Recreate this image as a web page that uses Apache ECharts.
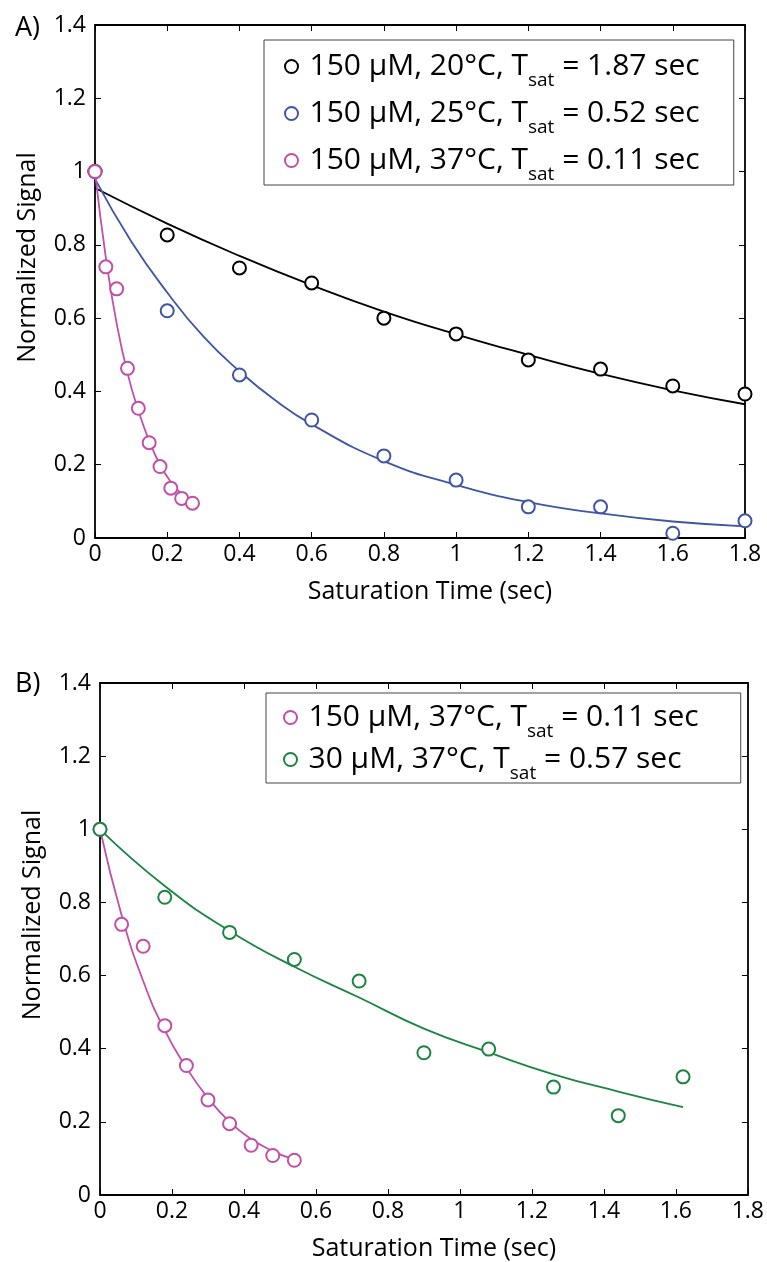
<!DOCTYPE html>
<html>
<head>
<meta charset="utf-8">
<script src="https://cdn.jsdelivr.net/npm/echarts@6/dist/echarts.min.js"></script>
<style>
html,body{margin:0;padding:0;background:#fff;}
#chart{width:767px;height:1262px;}
</style>
</head>
<body>
<div id="chart"></div>
<script>
// ---------- Data ----------
const xTicks = [0, 0.2, 0.4, 0.6, 0.8, 1, 1.2, 1.4, 1.6, 1.8];
const yTicks = [0, 0.2, 0.4, 0.6, 0.8, 1, 1.2, 1.4];

// Panel A
const xA = [0, 0.2, 0.4, 0.6, 0.8, 1.0, 1.2, 1.4, 1.6, 1.8];
const black20C = [1.0, 0.827, 0.737, 0.696, 0.600, 0.557, 0.486, 0.461, 0.415, 0.393];
const blue25C = [1.0, 0.620, 0.445, 0.322, 0.224, 0.158, 0.085, 0.085, 0.013, 0.047];
const xMagA = [0, 0.03, 0.06, 0.09, 0.12, 0.15, 0.18, 0.21, 0.24, 0.27];
const mag37C = [1.0, 0.740, 0.680, 0.463, 0.354, 0.260, 0.195, 0.136, 0.108, 0.095];

// Fit curves panel A
const fitBlackX = [0, 0.2, 0.4, 0.6, 0.8, 1.0, 1.2, 1.4, 1.6, 1.8];
const fitBlackY = [0.955, 0.858, 0.77, 0.69, 0.618, 0.556, 0.50, 0.448, 0.403, 0.365];
const fitBlueX = [0, 0.1, 0.2, 0.3, 0.4, 0.5, 0.6, 0.8, 1.0, 1.2, 1.4, 1.6, 1.8];
const fitBlueY = [0.98, 0.81, 0.67, 0.55, 0.455, 0.375, 0.31, 0.21, 0.145, 0.098, 0.067, 0.045, 0.032];
const fitMagAX = [0, 0.03, 0.06, 0.09, 0.12, 0.15, 0.18, 0.21, 0.24, 0.265];
const fitMagY = [1.0, 0.765, 0.585, 0.45, 0.348, 0.265, 0.2, 0.153, 0.12, 0.10];

// Panel B
const xMagB = [0, 0.06, 0.12, 0.18, 0.24, 0.30, 0.36, 0.42, 0.48, 0.54];
const fitMagBX = [0, 0.06, 0.12, 0.18, 0.24, 0.30, 0.36, 0.42, 0.48, 0.53];
const xGreen = [0, 0.18, 0.36, 0.54, 0.72, 0.90, 1.08, 1.26, 1.44, 1.62];
const green30uM = [1.0, 0.814, 0.718, 0.644, 0.585, 0.389, 0.399, 0.295, 0.217, 0.323];
const fitGreenY = [1.0, 0.845, 0.722, 0.624, 0.54, 0.455, 0.39, 0.33, 0.283, 0.24];

const names = {
  a20: '150 μM, 20°C, Tsat = 1.87 sec',
  a25: '150 μM, 25°C, Tsat = 0.52 sec',
  a37: '150 μM, 37°C, Tsat = 0.11 sec',
  b30: '30 μM, 37°C, Tsat = 0.57 sec'
};

// ---------- Styling ----------
const FONT = 'Open Sans';
const C_BLACK = '#000000', C_BLUE = '#3f55a5', C_MAG = '#c150a8', C_GREEN = '#1b8541';

function zip(xs, ys) { return xs.map((x, i) => [x, ys[i]]); }

function scatter(name, xs, ys, color, gi) {
  return {
    type: 'scatter', name: name, xAxisIndex: gi * 2, yAxisIndex: gi * 2,
    data: zip(xs, ys), symbol: 'emptyCircle', symbolSize: 13,
    itemStyle: { color: color, borderColor: color, borderWidth: 1.8, opacity: 1 },
    emphasis: { disabled: true }, z: 3
  };
}
function fit(name, xs, ys, color, gi) {
  return {
    type: 'line', name: name, xAxisIndex: gi * 2, yAxisIndex: gi * 2,
    data: zip(xs, ys), showSymbol: false, smooth: true,
    lineStyle: { color: color, width: 1.8 }, itemStyle: { color: color },
    silent: true, z: 2
  };
}

function axesFor(gi) {
  const lineSty = { show: true, lineStyle: { color: '#000', width: 1.8 } };
  const tickIn = { show: true, inside: true, length: 6, lineStyle: { color: '#000', width: 1 } };
  return {
    x: [
      { type: 'value', gridIndex: gi, position: 'bottom', min: 0, max: 1.8, interval: 0.2,
        axisLine: Object.assign({ onZero: false }, lineSty), axisTick: tickIn, splitLine: { show: false },
        axisLabel: { color: '#000', fontFamily: FONT, fontSize: 23, margin: 5 },
        name: 'Saturation Time (sec)', nameLocation: 'middle', nameGap: 41,
        nameTextStyle: { color: '#000', fontFamily: FONT, fontSize: 25, padding: [0, 0, 0, 20] } },
      { type: 'value', gridIndex: gi, position: 'top', min: 0, max: 1.8, interval: 0.2,
        axisLine: Object.assign({ onZero: false }, lineSty), axisTick: tickIn, splitLine: { show: false },
        axisLabel: { show: false } }
    ],
    y: [
      { type: 'value', gridIndex: gi, position: 'left', min: 0, max: 1.4, interval: 0.2,
        axisLine: Object.assign({ onZero: false }, lineSty), axisTick: tickIn, splitLine: { show: false },
        axisLabel: { color: '#000', fontFamily: FONT, fontSize: 23, margin: 9 },
        name: 'Normalized Signal', nameLocation: 'middle', nameGap: 55, nameRotate: 90,
        nameTextStyle: { color: '#000', fontFamily: FONT, fontSize: 25, padding: [0, 0, 0, 48] } },
      { type: 'value', gridIndex: gi, position: 'right', min: 0, max: 1.4, interval: 0.2,
        axisLine: Object.assign({ onZero: false }, lineSty), axisTick: tickIn, splitLine: { show: false },
        axisLabel: { show: false } }
    ]
  };
}
const axA = axesFor(0), axB = axesFor(1);

const legendText = {
  fontFamily: FONT, fontSize: 30, color: '#000', lineHeight: 44,
  rich: {
    sub: { fontFamily: FONT, fontSize: 19, color: '#000', lineHeight: 18, padding: [28, 0, 0, 0] }
  }
};
function legendFmt(n) { return n.replace('Tsat', 'T{sub|sat}'); }

const option = {
  backgroundColor: '#fff',
  animation: false,
  title: [
    { text: 'A)', left: 10, top: 10, textStyle: { fontFamily: FONT, fontSize: 27, fontWeight: 'normal', color: '#000' } },
    { text: 'B)', left: 10, top: 666, textStyle: { fontFamily: FONT, fontSize: 27, fontWeight: 'normal', color: '#000' } }
  ],
  grid: [
    { left: 95, top: 25, width: 650, height: 513 },
    { left: 100, top: 683, width: 650, height: 512 }
  ],
  xAxis: axA.x.concat(axB.x),
  yAxis: axA.y.concat(axB.y),
  legend: [
    { orient: 'vertical', left: 264, top: 40, data: [names.a20, names.a25, names.a37],
      backgroundColor: '#fff', borderColor: '#444', borderWidth: 1,
      padding: [3, 34, 1, 20], itemGap: 0, itemWidth: 26, itemHeight: 13,
      icon: 'emptyCircle', itemStyle: { borderWidth: 1.6 },
      formatter: legendFmt, textStyle: legendText, selectedMode: false },
    { orient: 'vertical', left: 266, top: 693, data: [names.a37, names.b30],
      backgroundColor: '#fff', borderColor: '#444', borderWidth: 1,
      padding: [1, 42, 0, 17], itemGap: -5, itemWidth: 26, itemHeight: 13,
      icon: 'emptyCircle', itemStyle: { borderWidth: 1.6 },
      formatter: legendFmt, textStyle: legendText, selectedMode: false }
  ],
  series: [
    fit('fitBlack', fitBlackX, fitBlackY, C_BLACK, 0),
    fit('fitBlue', fitBlueX, fitBlueY, C_BLUE, 0),
    fit('fitMagA', fitMagAX, fitMagY, C_MAG, 0),
    scatter(names.a20, xA, black20C, C_BLACK, 0),
    scatter(names.a25, xA, blue25C, C_BLUE, 0),
    scatter(names.a37, xMagA, mag37C, C_MAG, 0),
    fit('fitMagB', fitMagBX, fitMagY, C_MAG, 1),
    fit('fitGreen', xGreen, fitGreenY, C_GREEN, 1),
    scatter(names.a37, xMagB, mag37C, C_MAG, 1),
    scatter(names.b30, xGreen, green30uM, C_GREEN, 1)
  ]
};

const chart = echarts.init(document.getElementById('chart'), null, { renderer: 'canvas' });
chart.setOption(option);
</script>
</body>
</html>
